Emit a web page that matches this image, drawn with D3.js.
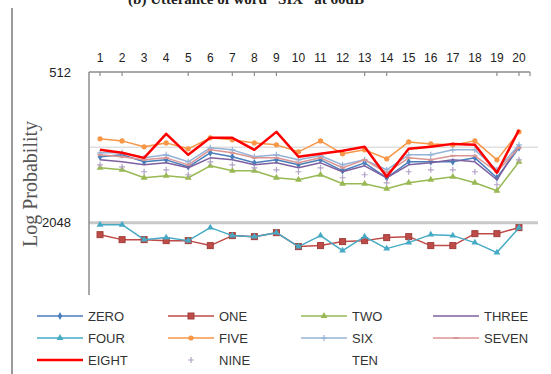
<!DOCTYPE html>
<html>
<head>
<meta charset="utf-8">
<script src="https://cdn.jsdelivr.net/npm/d3@7/dist/d3.min.js"></script>
<style>
  html, body { margin: 0; padding: 0; background: #fff; }
  svg { display: block; }
</style>
</head>
<body>
<svg id="chart" width="551" height="374"></svg>
<script>
// Frame index of each utterance segment
const categories = [1, 2, 3, 4, 5, 6, 7, 8, 9, 10, 11, 12, 13, 14, 15, 16, 17, 18, 19, 20];

// Log probability of each word model, per frame
const zero  = [1117, 1097, 1170, 1149, 1225, 1077, 1117, 1181, 1149, 1203, 1149, 1271, 1181, 1355, 1170, 1170, 1170, 1128, 1355, 1029];
const one   = [2287, 2394, 2394, 2416, 2416, 2529, 2307, 2329, 2245, 2553, 2529, 2438, 2416, 2350, 2329, 2529, 2529, 2266, 2266, 2144];
const two   = [1236, 1259, 1355, 1331, 1355, 1214, 1271, 1271, 1355, 1380, 1318, 1432, 1432, 1499, 1419, 1380, 1343, 1419, 1526, 1170];
const three = [1149, 1170, 1203, 1181, 1236, 1128, 1149, 1203, 1181, 1236, 1181, 1282, 1214, 1355, 1203, 1181, 1149, 1170, 1380, 1001];
const four  = [2086, 2086, 2394, 2350, 2416, 2144, 2307, 2329, 2245, 2553, 2307, 2648, 2329, 2600, 2461, 2287, 2307, 2461, 2697, 2144];
const five  = [947, 965, 1019, 983, 1038, 938, 956, 983, 1001, 1067, 965, 1087, 1048, 1138, 974, 992, 1001, 965, 1149, 888];
const six   = [1077, 1077, 1128, 1097, 1170, 1029, 1048, 1117, 1097, 1149, 1107, 1203, 1149, 1259, 1097, 1097, 1048, 1048, 1259, 1001];
const seven = [1097, 1117, 1149, 1128, 1203, 1048, 1077, 1128, 1128, 1181, 1128, 1236, 1149, 1294, 1128, 1149, 1107, 1107, 1282, 1029];
const eight = [1048, 1077, 1128, 905, 1097, 938, 938, 1048, 888, 1117, 1087, 1057, 1019, 1343, 1038, 1019, 992, 1001, 1294, 872];
const nine  = [1203, 1225, 1282, 1259, 1318, 1170, 1203, 1236, 1259, 1282, 1236, 1355, 1318, 1419, 1282, 1259, 1259, 1282, 1445, 1149];
const ten   = [];

const seriesNames = ["ZERO", "ONE", "TWO", "THREE", "FOUR", "FIVE", "SIX", "SEVEN", "EIGHT", "NINE", "TEN"];
const seriesValues = [zero, one, two, three, four, five, six, seven, eight, nine, ten];

// Axis labels
const yTickValues = [512, 2048];
const gridValues = [1024, 2048];
const tickMarkFrames = [1, 2, 5, 7, 8, 9, 13, 14, 19, 20];
const titleText = "(b) Utterance of word \u201cSIX\u201d at 60dB";
const yTitle = "Log Probability";

// Line / marker styling per series
const styles = {
  ZERO:  { color: "#4A7EBB", width: 1.5, line: true,  marker: "diamond" },
  ONE:   { color: "#BE4B48", width: 1.5, line: true,  marker: "square" },
  TWO:   { color: "#98B954", width: 1.5, line: true,  marker: "triangle" },
  THREE: { color: "#7D60A0", width: 1.5, line: true,  marker: null },
  FOUR:  { color: "#46AAC5", width: 1.5, line: true,  marker: "triangle" },
  FIVE:  { color: "#F79646", width: 1.5, line: true,  marker: "circle" },
  SIX:   { color: "#95B3D7", width: 1.5, line: true,  marker: "plus" },
  SEVEN: { color: "#DA9694", width: 1.5, line: true,  marker: "dash" },
  EIGHT: { color: "#FF0000", width: 2.5, line: true,  marker: null },
  NINE:  { color: "#B3A2C7", width: 1.5, line: false, marker: "plus" },
  TEN:   { color: "#FFFFFF", width: 1.5, line: false, marker: null }
};

const svg = d3.select("#chart");
const plotLeft = 89, plotRight = 530, plotTop = 72, plotBottom = 298;

const x = d3.scaleBand().domain(categories).range([plotLeft, plotRight]).padding(0);
const cx = d => x(d) + x.bandwidth() / 2;
const y = d3.scaleLog().base(2).domain([512, 4096]).range([plotTop, plotBottom]);

// Figure title (runs past the top edge of the page)
svg.append("text")
  .attr("x", 246).attr("y", 4)
  .attr("text-anchor", "middle")
  .attr("font-family", "Liberation Serif, serif")
  .attr("font-weight", "bold")
  .attr("font-size", 15)
  .attr("fill", "#222")
  .text(titleText);

// Figure frame line on the left
svg.append("line")
  .attr("x1", 12).attr("x2", 12).attr("y1", 8).attr("y2", 374)
  .attr("stroke", "#9a9a9a").attr("stroke-width", 2);

// Horizontal gridlines
svg.append("g").selectAll("line").data(gridValues).join("line")
  .attr("x1", plotLeft).attr("x2", plotRight + 8)
  .attr("y1", d => y(d)).attr("y2", d => y(d))
  .attr("stroke", d => d === 2048 ? "#c8c8c8" : "#e0e0e0")
  .attr("stroke-width", d => d === 2048 ? 3 : 1.5);

// Plot border: top and left edges
svg.append("line").attr("x1", plotLeft).attr("x2", plotRight).attr("y1", plotTop).attr("y2", plotTop)
  .attr("stroke", "#8c8c8c").attr("stroke-width", 1.5);
svg.append("line").attr("x1", plotLeft).attr("x2", plotLeft).attr("y1", plotTop).attr("y2", 295)
  .attr("stroke", "#8c8c8c").attr("stroke-width", 1.5);

// Top category axis
const xAxis = svg.append("g")
  .attr("transform", `translate(0,${plotTop - 10})`)
  .call(d3.axisTop(x).tickSize(0).tickPadding(0));
xAxis.select(".domain").remove();
xAxis.selectAll("text")
  .attr("font-family", "Liberation Sans Narrow, Liberation Sans, sans-serif")
  .attr("font-size", 12)
  .attr("fill", "#222");

svg.append("g").selectAll("line").data(tickMarkFrames).join("line")
  .attr("x1", d => cx(d)).attr("x2", d => cx(d))
  .attr("y1", plotTop).attr("y2", plotTop + 4)
  .attr("stroke", "#8c8c8c").attr("stroke-width", 1.2);
svg.append("line").attr("x1", plotRight).attr("x2", plotRight).attr("y1", plotTop).attr("y2", plotTop + 4)
  .attr("stroke", "#8c8c8c").attr("stroke-width", 1.2);

// Value axis labels
const yAxis = svg.append("g")
  .attr("transform", `translate(${plotLeft - 15},0)`)
  .call(d3.axisLeft(y).tickValues(yTickValues).tickSize(0).tickFormat(d3.format("d")));
yAxis.select(".domain").remove();
yAxis.selectAll("text")
  .attr("font-family", "Liberation Sans Narrow, Liberation Sans, sans-serif")
  .attr("font-size", 13)
  .attr("fill", "#222");

svg.append("text")
  .attr("transform", `translate(37,184) rotate(-90)`)
  .attr("text-anchor", "middle")
  .attr("font-family", "Liberation Serif, serif")
  .attr("font-size", 20)
  .attr("fill", "#555")
  .text(yTitle);

// Marker shapes
function drawMarker(g, kind, color, px, py) {
  if (kind === "square") {
    g.append("rect").attr("x", px - 3).attr("y", py - 3).attr("width", 6).attr("height", 6)
      .attr("fill", color).attr("stroke", d3.color(color).darker(0.5));
  } else if (kind === "diamond") {
    g.append("path").attr("d", d3.symbol(d3.symbolDiamond, 18)()).attr("transform", `translate(${px},${py})`)
      .attr("fill", color);
  } else if (kind === "triangle") {
    g.append("path").attr("d", d3.symbol(d3.symbolTriangle, 20)()).attr("transform", `translate(${px},${py})`)
      .attr("fill", color);
  } else if (kind === "circle") {
    g.append("circle").attr("cx", px).attr("cy", py).attr("r", 2.6).attr("fill", color);
  } else if (kind === "plus") {
    g.append("path").attr("d", `M${px - 3},${py}H${px + 3}M${px},${py - 3}V${py + 3}`)
      .attr("stroke", color).attr("stroke-width", 1.2);
  } else if (kind === "dash") {
    g.append("path").attr("d", `M${px - 2.5},${py}H${px + 2.5}`)
      .attr("stroke", color).attr("stroke-width", 2);
  }
}

const line = d3.line().x((d, i) => cx(categories[i])).y(d => y(d));

// Series lines and markers
const plot = svg.append("g");
seriesNames.forEach((name, k) => {
  const vals = seriesValues[k];
  const st = styles[name];
  if (!vals.length) return;
  const g = plot.append("g");
  if (st.line) {
    g.append("path").datum(vals)
      .attr("d", line)
      .attr("fill", "none")
      .attr("stroke", st.color)
      .attr("stroke-width", st.width)
      .attr("stroke-linejoin", "round");
  }
  if (st.marker) {
    vals.forEach((v, i) => drawMarker(g, st.marker, st.color, cx(categories[i]), y(v)));
  }
});

// Legend: four columns, three rows
const legendCols = [37, 168, 301, 433];
const legendRows = [316, 338, 360];
const legend = svg.append("g");
seriesNames.forEach((name, k) => {
  const st = styles[name];
  const lx = legendCols[k % 4], ly = legendRows[Math.floor(k / 4)];
  const g = legend.append("g");
  if (st.line) {
    g.append("line").attr("x1", lx).attr("x2", lx + 46).attr("y1", ly).attr("y2", ly)
      .attr("stroke", st.color).attr("stroke-width", st.width);
  }
  if (st.marker) drawMarker(g, st.marker, st.color, lx + 23, ly);
  g.append("text").attr("x", lx + 51).attr("y", ly).attr("dy", "0.36em")
    .attr("font-family", "Liberation Sans, sans-serif")
    .attr("font-size", 13)
    .attr("fill", "#333")
    .text(name);
});
</script>
</body>
</html>
